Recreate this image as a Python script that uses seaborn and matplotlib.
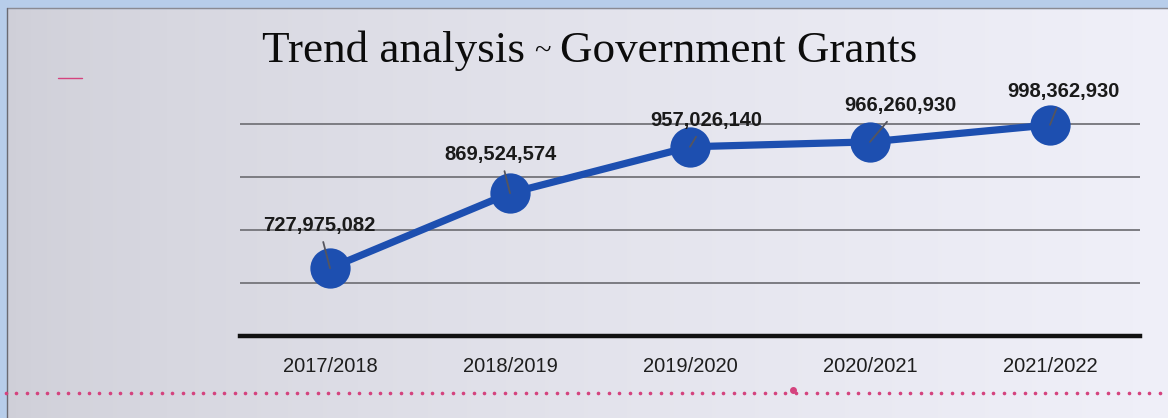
import numpy as np
import matplotlib
matplotlib.use("Agg")
import matplotlib.pyplot as plt
import seaborn as sns
import pandas as pd

# Government grants received per financial year
years = ["2017/2018", "2018/2019", "2019/2020", "2020/2021", "2021/2022"]
grants = [727975082, 869524574, 957026140, 966260930, 998362930]
title_parts = ["Trend analysis", "~", "Government Grants"]

# label offsets (in points) from each marker centre to the text baseline
label_offsets = [(-8, 27), (-7, 24), (11.5, 15), (22, 22), (9.5, 20)]

sns.set_style("white")
plt.rcParams["font.family"] = ["Liberation Sans", "DejaVu Sans"]

W, H = 1168, 418
fig = plt.figure(figsize=(W / 100, H / 100), dpi=100)

# paper-like backdrop: greyish on the left, lighter towards the right
bg = fig.add_axes([0, 0, 1, 1], zorder=-10)
gx = np.linspace(0, 1, 300)
grad = np.clip(0.815 + 0.13 * gx ** 0.7, 0, 1)
rgb = np.stack([grad - 0.005, grad - 0.005, np.clip(grad + 0.03, 0, 1)], axis=-1)[None, :, :]
bg.imshow(rgb, aspect="auto", extent=[0, 1, 0, 1])
# light blue scan border along the top and left
bg.axhspan(1 - 8 / H, 1.0, color="#b7cdea")
bg.axvspan(0.0, 7 / W, color="#b7cdea")
bg.plot([7 / W, 1], [1 - 8 / H, 1 - 8 / H], color="#8a8a92", lw=1)
bg.plot([7 / W, 7 / W], [0, 1 - 8 / H], color="#6a6a72", lw=1)
# pink dotted rule near the bottom
dots_x = np.arange(0.005, 1.0, 0.0089)
bg.plot(dots_x, np.full(len(dots_x), 1 - 393 / H),
        ls="none", marker="o", ms=1.6, color="#d4437e")
bg.plot([0.679], [1 - 390 / H], marker="o", ms=4, color="#d4437e")
bg.plot([0.05, 0.07], [1 - 78 / H, 1 - 78 / H], color="#d4437e", lw=1)
bg.set_xlim(0, 1)
bg.set_ylim(0, 1)
bg.axis("off")

# plot area
left, right = 240 / W, 1140 / W
bottom = 1 - 336 / H
top_px = 336 - 480 * 0.53
ax = fig.add_axes([left, bottom, right - left, (336 - top_px) / H])
ax.patch.set_alpha(0)

df = pd.DataFrame({"year": years, "grants": grants})
sns.lineplot(data=df, x="year", y="grants", ax=ax, color="#1d4fb0", lw=5.2,
             marker="o", markersize=29, markeredgewidth=0, sort=False, zorder=3)

ax.set_xlim(-0.5, 4.5)
ax.set_ylim(600e6, 1080e6)
ax.set_yticks([700e6, 800e6, 900e6, 1000e6])
ax.yaxis.grid(True, color="#7c7c82", lw=1.4)
ax.set_yticklabels([])
ax.tick_params(axis="y", length=0)
ax.tick_params(axis="x", length=0, pad=15, labelsize=14.5, colors="#1e1e1e")
ax.set_xlabel("")
ax.set_ylabel("")
for s in ["left", "right", "top"]:
    ax.spines[s].set_visible(False)
ax.spines["bottom"].set_color("#111111")
ax.spines["bottom"].set_linewidth(3.2)

for i, (v, off) in enumerate(zip(grants, label_offsets)):
    ax.annotate(f"{v:,}", xy=(i, v), xytext=off, textcoords="offset points",
                ha="center", va="baseline", fontsize=14.5, fontweight="bold",
                color="#1a1a1a", zorder=5,
                arrowprops=dict(arrowstyle="-", color="#55555e", lw=1.3,
                                shrinkA=3, shrinkB=0))

# title: serif text with a small tilde separator
serif = ["Liberation Serif", "DejaVu Serif"]
renderer = fig.canvas.get_renderer()
ty = 1 - 62 / H
t1 = fig.text(262 / W, ty, title_parts[0], family=serif, fontsize=32.5,
              color="#0c0c0c", ha="left", va="baseline")
x1 = t1.get_window_extent(renderer).x1
t2 = fig.text((x1 + 9) / W, 1 - 51 / H, title_parts[1], family=serif, fontsize=22,
              color="#0c0c0c", ha="left", va="center")
x2 = t2.get_window_extent(renderer).x1
fig.text((x2 + 10) / W, ty, title_parts[2], family=serif, fontsize=32.5,
         color="#0c0c0c", ha="left", va="baseline")

fig.savefig("out.png", dpi=100)
